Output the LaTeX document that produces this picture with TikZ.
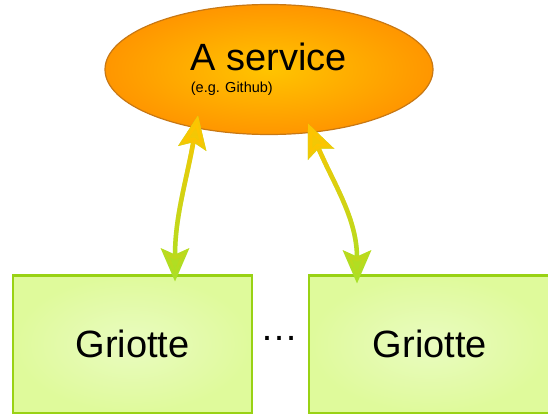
\documentclass[tikz,border=0pt]{standalone}
\usepackage{fontspec}
\setmainfont{Liberation Sans}
\usetikzlibrary{shapes.geometric, positioning, arrows.meta, fadings}
\definecolor{svcinner}{RGB}{255,196,0}
\definecolor{svcouter}{RGB}{255,150,0}
\definecolor{svcdraw}{RGB}{200,120,20}
\definecolor{boxinner}{RGB}{233,251,192}
\definecolor{boxouter}{RGB}{223,250,155}
\definecolor{boxdraw}{RGB}{153,210,20}
\definecolor{linktop}{RGB}{255,196,0}
\definecolor{linkbot}{RGB}{166,226,40}

\begin{document}
\begin{tikzpicture}[
			on grid,
			font=\fontsize{38}{22}\selectfont,
			service/.style={
				ellipse,
				draw=svcdraw,
				line width=1.2pt,
				inner color=svcinner,
				outer color=svcouter,
				minimum width=328pt,
				minimum height=130pt,
				align=left
			},
			griotte/.style={
				rectangle,
				draw=boxdraw,
				line width=2pt,
				inner color=boxinner,
				outer color=boxouter,
				minimum width=239pt,
				minimum height=137pt
			},
			link/.style={
				line width=4.5pt,
				{Stealth[length=33pt,width=28pt,inset=6pt]}-{Stealth[length=33pt,width=28pt,inset=6pt]}
			},
			link base/.style={draw=linkbot},
			link fade/.style={draw=linktop, path fading=south}
			]
			\useasboundingbox (0,0) rectangle (548pt,415pt);
			
			% Nodes
			\node[service] (svc) at (269pt,345.5pt) {A service\\{\fontsize{14.5}{22}\selectfont (e.g. Github)}};
			\node[griotte] (g1) [below left=274.5pt and 136.5pt of svc] {Griotte};
			\node[griotte, minimum width=242pt] (g2) [right=297.5pt of g1] {Griotte};
			\node (dots) [above right=5.5pt and 146.5pt of g1] {…};
			
			% Links
			\foreach \layer in {base,fade} {
				\draw[link, link \layer] ([xshift=42.5pt,yshift=-7pt]g1.north) to[out=90,in=-100] ([xshift=-71pt,yshift=19.5pt]svc.south);
				\draw[link, link \layer] ([xshift=-73pt,yshift=-9pt]g2.north) to[out=90,in=-67] ([xshift=39pt,yshift=11.5pt]svc.south);
			}
		\end{tikzpicture}
\end{document}
